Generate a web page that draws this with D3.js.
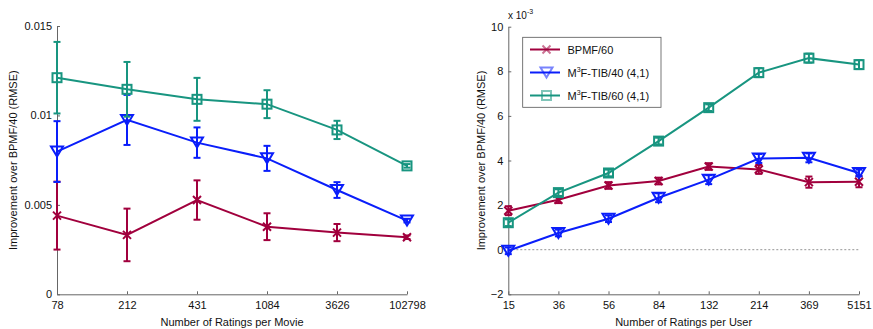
<!DOCTYPE html>
<html>
<head>
<meta charset="utf-8">
<script src="https://d3js.org/d3.v7.min.js"></script>
<style>
  body { margin: 0; background: #fff; }
  text { font-family: "Liberation Sans", Arial, sans-serif; }
</style>
</head>
<body>
<script>
    const [width, height] = [873, 329]

    // left panel: per movie
    const movieCats = ["78", "212", "431", "1084", "3626", "102798"];
    const movieBPMF60 = [0.0044, 0.00332, 0.00527, 0.00378, 0.00345, 0.00319];
    const movieBPMF60Err = [0.0019, 0.00147, 0.0011, 0.00075, 0.00048, 0.0001];
    const movieTIB40 = [0.00798, 0.00975, 0.00848, 0.0076, 0.00583, 0.00412];
    const movieTIB40Err = [0.0017, 0.0014, 0.00085, 0.0007, 0.00044, 0.0001];
    const movieTIB60 = [0.01211, 0.01146, 0.0109, 0.01063, 0.00919, 0.00718];
    const movieTIB60Err = [0.002, 0.00153, 0.0012, 0.00078, 0.00051, 0.0001];
    const movieTicks = [0, 0.005, 0.01, 0.015];

    // right panel: per user (x 10^-3)
    const userCats = ["15", "36", "56", "84", "132", "214", "369", "5151"];
    const userBPMF60 = [1.75, 2.24, 2.88, 3.08, 3.73, 3.6, 3.03, 3.05];
    const userBPMF60Err = [0.2, 0.15, 0.15, 0.15, 0.15, 0.2, 0.25, 0.25];
    const userTIB40 = [-0.05, 0.75, 1.39, 2.33, 3.14, 4.09, 4.12, 3.44];
    const userTIB40Err = [0.15, 0.15, 0.15, 0.2, 0.2, 0.2, 0.2, 0.15];
    const userTIB60 = [1.21, 2.56, 3.44, 4.87, 6.37, 7.94, 8.59, 8.3];
    const userTIB60Err = [0.15, 0.15, 0.15, 0.15, 0.15, 0.2, 0.2, 0.2];
    const userTicks = [-2, 0, 2, 4, 6, 8, 10];

    const colors = { bpmf: "#a1003d", tib40: "#0a1efa", tib60: "#189580" };
    const axisColor = "#666";

    const svg = d3.select("body")
        .append("svg")
        .attr("width", width)
        .attr("height", height);

    function marker(g, type, color, s) {
        if (type == "x") {
            g.append("path")
                .attr("d", `M${-s},${-s}L${s},${s}M${-s},${s}L${s},${-s}`)
                .style("stroke", color).style("stroke-width", 2).style("fill", "none");
        } else if (type == "tri") {
            g.append("path")
                .attr("d", `M${-s * 1.2},${-s}L${s * 1.2},${-s}L0,${s}Z`)
                .style("stroke", color).style("stroke-width", 2).style("fill", "none");
        } else {
            g.append("rect")
                .attr("x", -s).attr("y", -s).attr("width", 2 * s).attr("height", 2 * s)
                .style("stroke", color).style("stroke-width", 2).style("fill", "none");
        }
    }

    function panel(opts) {
        const x = d3.scalePoint().domain(opts.cats).range([opts.x0, opts.x1]);
        const y = d3.scaleLinear().domain(opts.yDomain).range([opts.y0, opts.y1]);
        const g = svg.append("g");

        const yAxis = g.append("g")
            .attr("transform", `translate(${opts.x0},0)`)
            .call(d3.axisLeft(y).tickValues(opts.ticks).tickFormat(d3.format("~g"))
                .tickSizeInner(-3).tickSizeOuter(0).tickPadding(5));
        const xAxis = g.append("g")
            .attr("transform", `translate(0,${opts.y0})`)
            .call(d3.axisBottom(x).tickSizeInner(-3).tickSizeOuter(0).tickPadding(7));
        [xAxis, yAxis].forEach(a => {
            a.select(".domain").style("stroke", axisColor);
            a.selectAll(".tick line").style("stroke", axisColor);
            a.selectAll("text").style("font-size", "11px").style("fill", "#111")
                .style("font-family", "Liberation Sans, Arial, sans-serif");
        });

        if (opts.zeroLine) {
            g.append("line")
                .attr("x1", opts.x0).attr("x2", opts.x1)
                .attr("y1", y(0)).attr("y2", y(0))
                .style("stroke", "#777").style("stroke-dasharray", "2,2").style("stroke-width", 0.8);
        }

        opts.series.forEach(s => {
            const pts = opts.cats.map((c, i) => ({ c: c, v: s.values[i], e: s.err[i] }));
            const sg = g.append("g");
            sg.append("path")
                .datum(pts)
                .attr("d", d3.line().x(d => x(d.c)).y(d => y(d.v)))
                .style("fill", "none").style("stroke", s.color).style("stroke-width", 2);
            const eb = sg.selectAll(".err").data(pts).enter().append("g");
            eb.append("line")
                .attr("x1", d => x(d.c)).attr("x2", d => x(d.c))
                .attr("y1", d => y(d.v - d.e)).attr("y2", d => y(d.v + d.e))
                .style("stroke", s.color).style("stroke-width", 2);
            [-1, 1].forEach(k => {
                eb.append("line")
                    .attr("x1", d => x(d.c) - 3.5).attr("x2", d => x(d.c) + 3.5)
                    .attr("y1", d => y(d.v + k * d.e)).attr("y2", d => y(d.v + k * d.e))
                    .style("stroke", s.color).style("stroke-width", 2);
            });
            sg.selectAll(".mk").data(pts).enter().append("g")
                .attr("transform", d => `translate(${x(d.c)},${y(d.v)})`)
                .each(function () { marker(d3.select(this), s.marker, s.color, s.size); });
        });

        g.append("text")
            .attr("x", (opts.x0 + opts.x1) / 2).attr("y", 326)
            .attr("text-anchor", "middle")
            .style("font-size", "11px").style("fill", "#111")
            .text(opts.xTitle);
        g.append("text")
            .attr("transform", `translate(${opts.yTitleX},${(opts.y0 + opts.y1) / 2}) rotate(-90)`)
            .attr("text-anchor", "middle")
            .style("font-size", "11px").style("fill", "#111")
            .text("Improvement over BPMF/40 (RMSE)");
        return { x, y };
    }

    const seriesDefs = (a, ae, b, be, c, ce) => [
        { values: a, err: ae, color: colors.bpmf, marker: "x", size: 4 },
        { values: b, err: be, color: colors.tib40, marker: "tri", size: 5 },
        { values: c, err: ce, color: colors.tib60, marker: "sq", size: 4.5 }
    ];

    panel({
        cats: movieCats, x0: 57, x1: 407, y0: 294.3, y1: 26,
        yDomain: [0, 0.015], ticks: movieTicks,
        series: seriesDefs(movieBPMF60, movieBPMF60Err, movieTIB40, movieTIB40Err, movieTIB60, movieTIB60Err),
        xTitle: "Number of Ratings per Movie", yTitleX: 17
    });

    panel({
        cats: userCats, x0: 508.3, x1: 859, y0: 294.3, y1: 26.7,
        yDomain: [-2, 10], ticks: userTicks, zeroLine: true,
        series: seriesDefs(userBPMF60, userBPMF60Err, userTIB40, userTIB40Err, userTIB60, userTIB60Err),
        xTitle: "Number of Ratings per User", yTitleX: 485
    });

    // exponent label
    const ex = svg.append("text").attr("x", 508).attr("y", 19)
        .style("font-size", "10px").style("fill", "#111");
    ex.append("tspan").text("x 10");
    ex.append("tspan").attr("dy", -5).style("font-size", "7px").text("-3");

    // legend
    const legendNames = [["BPMF/60", ""], ["M", "F-TIB/40 (4,1)"], ["M", "F-TIB/60 (4,1)"]];
    const legendDefs = seriesDefs([], [], [], [], [], []);
    const lg = svg.append("g");
    lg.append("rect")
        .attr("x", 522.7).attr("y", 37.3).attr("width", 138.3).attr("height", 70)
        .style("fill", "#fff").style("stroke", "#555").style("stroke-width", 0.8);
    legendDefs.forEach((s, i) => {
        const yy = 49.5 + i * 23;
        lg.append("line").attr("x1", 530).attr("x2", 560).attr("y1", yy).attr("y2", yy)
            .style("stroke", s.color).style("stroke-width", 2);
        const mg = lg.append("g").attr("transform", `translate(546.5,${yy})`).style("opacity", 0.55);
        marker(mg, s.marker, s.color, s.size);
        const t = lg.append("text").attr("x", 567.5).attr("y", yy + 4)
            .style("font-size", "11px").style("fill", "#111");
        t.append("tspan").text(legendNames[i][0]);
        if (legendNames[i][1]) {
            t.append("tspan").attr("dy", -5).style("font-size", "7px").text("3");
            t.append("tspan").attr("dy", 5).text(legendNames[i][1]);
        }
    });
</script>
</body>
</html>
